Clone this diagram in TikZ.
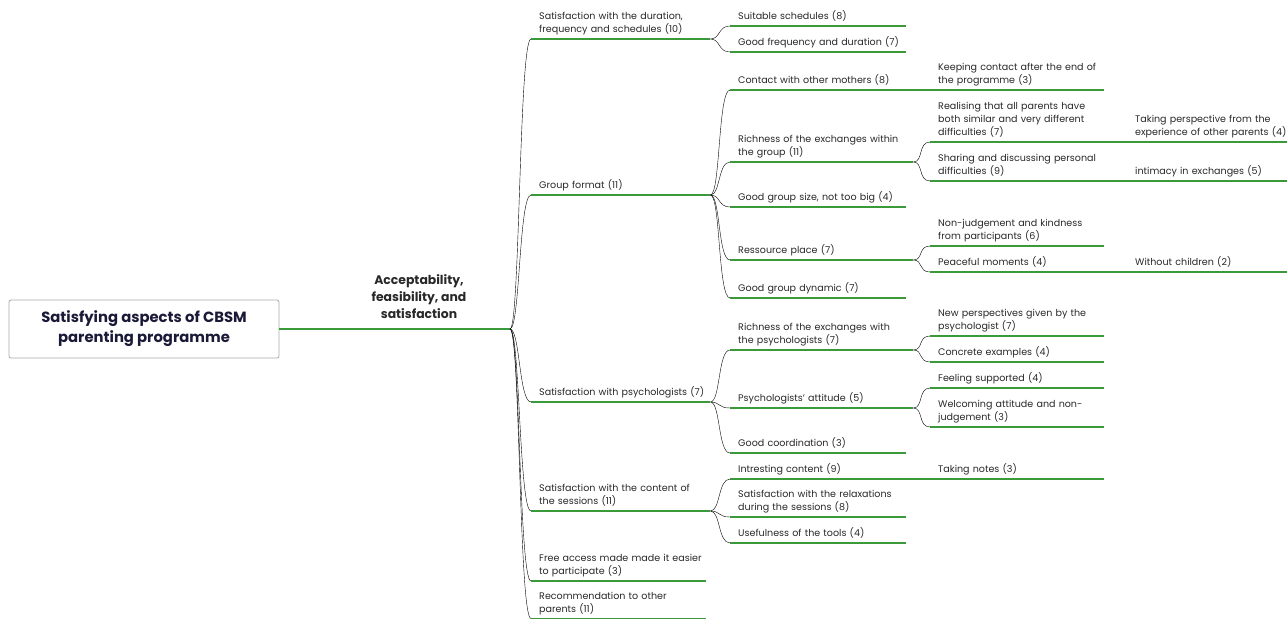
\documentclass[tikz,border=0pt]{standalone}
\usepackage{fontspec}
\setmainfont{Poppins}
\definecolor{branchgreen}{RGB}{58,154,58}
\definecolor{txt}{RGB}{40,40,40}
\definecolor{rootink}{RGB}{26,26,56}
\definecolor{boxline}{RGB}{170,170,170}

% one or more left-aligned lines that never get re-broken
\newcommand\lines[1]{\begin{tabular}{@{}l@{}}#1\end{tabular}}

\tikzset{
  branch/.style={draw=branchgreen, line width=1.1pt},
  topic/.style={anchor=south west, inner xsep=8pt, inner ysep=2pt,
    align=left, text=txt, font=\fontsize{9.55}{13}\selectfont},
  lvA/.style={topic, text width=163pt},      % first level, with children
  lvAleaf/.style={topic, text width=159pt},  % first level, no children
  lvB/.style={topic, text width=160pt},      % second level
  lvBhub/.style={topic, text width=167pt},   % second level, several children
  lvC/.style={topic, text width=158pt},      % third level
  lvD/.style={topic, text width=144pt},      % fourth level
  fork/.style={branch, to path={.. controls +(10,0) and +(-12,0) .. (\tikztotarget)}},
}

\begin{document}
\begin{tikzpicture}[x=1pt, y=-1pt]
\useasboundingbox (0,0) rectangle (1287,619);

% central topic
\node[draw=boxline, line width=0.8pt, rounded corners=2pt, minimum width=270pt,
  minimum height=58pt, align=center, text=rootink,
  font=\fontsize{14.8}{20}\selectfont\bfseries] (root) at (144,329)
  {Satisfying aspects of CBSM\\parenting programme};

\node[align=center, text=txt, font=\fontsize{12.4}{17}\selectfont\bfseries] (acc) at (419,297)
  {Acceptability,\\feasibility, and\\satisfaction};
\coordinate (hub) at (510,329);

% first level
\node[lvA] (L1a) at (531,39)  {\lines{Satisfaction with the duration,\\frequency and schedules (10)}};
\node[lvA] (L1b) at (531,195) {\lines{Group format (11)}};
\node[lvA] (L1c) at (531,402) {\lines{Satisfaction with psychologists (7)}};
\node[lvA] (L1d) at (531,511) {\lines{Satisfaction with the content of\\the sessions (11)}};
\node[lvAleaf] (L1e) at (531,581) {\lines{Free access made made it easier\\to participate (3)}};
\node[lvAleaf] (L1f) at (531,618.5) {\lines{Recommendation to other\\parents (11)}};

% second level
\node[lvB] (s1) at (730,26) {\lines{Suitable schedules (8)}};
\node[lvB] (s2) at (730,52) {\lines{Good frequency and duration (7)}};

\node[lvB]    (g1) at (730,90)  {\lines{Contact with other mothers (8)}};
\node[lvBhub] (g2) at (730,162) {\lines{Richness of the exchanges within\\the group (11)}};
\node[lvB]    (g3) at (730,207) {\lines{Good group size, not too big (4)}};
\node[lvBhub] (g4) at (730,260) {\lines{Ressource place (7)}};
\node[lvB]    (g5) at (730,298) {\lines{Good group dynamic (7)}};

\node[lvBhub] (p1) at (730,350) {\lines{Richness of the exchanges with\\the psychologists (7)}};
\node[lvBhub] (p2) at (730,408) {\lines{Psychologists' attitude (5)}};
\node[lvB]    (p3) at (730,453) {\lines{Good coordination (3)}};

\node[lvB] (c1) at (730,479) {\lines{Intresting content (9)}};
\node[lvB] (c2) at (730,517) {\lines{Satisfaction with the relaxations\\during the sessions (8)}};
\node[lvB] (c3) at (730,543) {\lines{Usefulness of the tools (4)}};

% third level
\node[lvC] (g1a) at (930,90)  {\lines{Keeping contact after the end of\\the programme (3)}};
\node[lvC] (g2a) at (930,142) {\lines{Realising that all parents have\\both similar and very different\\difficulties (7)}};
\node[lvC] (g2b) at (930,181) {\lines{Sharing and discussing personal\\difficulties (9)}};
\node[lvC] (g4a) at (930,246) {\lines{Non-judgement and kindness\\from participants (6)}};
\node[lvC] (g4b) at (930,272) {\lines{Peaceful moments (4)}};
\node[lvC] (p1a) at (930,336) {\lines{New perspectives given by the\\psychologist (7)}};
\node[lvC] (p1b) at (930,362) {\lines{Concrete examples (4)}};
\node[lvC] (p2a) at (930,388) {\lines{Feeling supported (4)}};
\node[lvC] (p2b) at (930,427) {\lines{Welcoming attitude and non-\\judgement (3)}};
\node[lvC] (c1a) at (930,479) {\lines{Taking notes (3)}};

% fourth level
\node[lvD] (g2a1) at (1127,142) {\lines{Taking perspective from the\\experience of other parents (4)}};
\node[lvD] (g2b1) at (1127,181) {\lines{intimacy in exchanges (5)}};
\node[lvD] (g4b1) at (1127,272) {\lines{Without children (2)}};

% underlines of every topic
\foreach \n in {L1a,L1b,L1c,L1d,L1e,L1f,s1,s2,g1,g2,g3,g4,g5,p1,p2,p3,c1,c2,c3,
                g1a,g2a,g2b,g4a,g4b,p1a,p1b,p2a,p2b,c1a,g2a1,g2b1,g4b1}
  \draw[branch] (\n.south west) -- (\n.south east);

% connectors
\draw[branch] (root.east) -- (hub);
\foreach \c in {L1a,L1b,L1c,L1d,L1e,L1f} \draw (hub) to[fork] (\c.south west);
\foreach \c in {s1,s2} \draw (L1a.south east) to[fork] (\c.south west);
\foreach \c in {g1,g2,g3,g4,g5} \draw (L1b.south east) to[fork] (\c.south west);
\foreach \c in {p1,p2,p3} \draw (L1c.south east) to[fork] (\c.south west);
\foreach \c in {c1,c2,c3} \draw (L1d.south east) to[fork] (\c.south west);
\foreach \c in {g2a,g2b} \draw (g2.south east) to[fork] (\c.south west);
\foreach \c in {g4a,g4b} \draw (g4.south east) to[fork] (\c.south west);
\foreach \c in {p1a,p1b} \draw (p1.south east) to[fork] (\c.south west);
\foreach \c in {p2a,p2b} \draw (p2.south east) to[fork] (\c.south west);
\draw[branch] (g1.south east) -- (g1a.south west);
\draw[branch] (c1.south east) -- (c1a.south west);
\draw[branch] (g2a.south east) -- (g2a1.south west);
\draw[branch] (g2b.south east) -- (g2b1.south west);
\draw[branch] (g4b.south east) -- (g4b1.south west);
\end{tikzpicture}
\end{document}
